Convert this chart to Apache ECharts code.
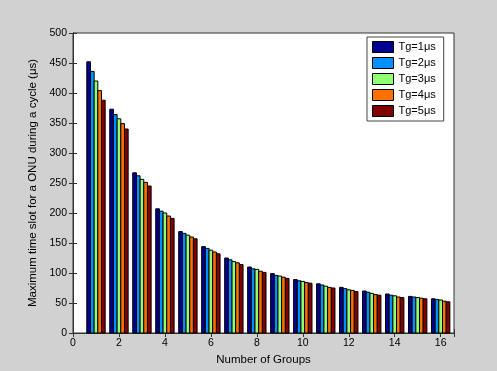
<!DOCTYPE html>
<html>
<head>
<meta charset="utf-8">
<script src="https://cdn.jsdelivr.net/npm/echarts@6/dist/echarts.min.js"></script>
<style>
  html, body { margin: 0; padding: 0; background: #d1d1d1; }
  #chart { width: 497px; height: 371px; }
</style>
</head>
<body>
<div id="chart"></div>
<script>
// groups 1..16
let groups = [1, 2, 3, 4, 5, 6, 7, 8, 9, 10, 11, 12, 13, 14, 15, 16]
let seriesNames = ['Tg=1μs', 'Tg=2μs', 'Tg=3μs', 'Tg=4μs', 'Tg=5μs']
let colors = ['#000090', '#0090ff', '#90ff70', '#ff7000', '#800000']
let tg1 = [452, 373, 267, 207, 169, 144, 125, 110, 99, 89, 82, 76, 70, 65, 61, 57]
let tg2 = [436, 364, 262, 203, 166, 141, 122, 107, 96, 87, 80, 74, 68, 63, 60, 56]
let tg3 = [420, 357, 256, 200, 163, 138, 119, 106, 95, 86, 78, 72, 66, 62, 59, 55]
let tg4 = [404, 349, 251, 195, 160, 135, 117, 103, 93, 84, 76, 71, 64, 60, 58, 53]
let tg5 = [388, 340, 245, 191, 157, 132, 114, 101, 91, 83, 75, 69, 63, 59, 57, 52]
let allValues = [tg1, tg2, tg3, tg4, tg5]

let barW = 0.16
let font = 'Liberation Sans, Arial, sans-serif'

function makeSeries (idx) {
  return {
    name: seriesNames[idx],
    type: 'custom',
    itemStyle: { color: colors[idx], borderColor: '#000', borderWidth: 1 },
    data: groups.map((g, i) => [g, allValues[idx][i]]),
    renderItem: function (params, api) {
      let x = api.value(0) + (idx - 2) * barW
      let top = api.coord([x - barW / 2, api.value(1)])
      let bottom = api.coord([x + barW / 2, 0])
      return {
        type: 'rect',
        shape: { x: top[0], y: top[1], width: bottom[0] - top[0], height: bottom[1] - top[1] },
        style: { fill: colors[idx], stroke: '#000', lineWidth: 1 }
      }
    }
  }
}

let axisCommon = {
  axisLine: { show: true, lineStyle: { color: '#333', width: 1 } },
  axisTick: { show: true, inside: true, length: 4, lineStyle: { color: '#333' } },
  splitLine: { show: false }
}

let option = {
  backgroundColor: '#d1d1d1',
  animation: false,
  textStyle: { fontFamily: font },
  grid: {
    left: 73, top: 33, right: 43, bottom: 38,
    show: true, backgroundColor: '#fff', borderColor: '#333', borderWidth: 1
  },
  legend: {
    orient: 'vertical',
    left: 367,
    top: 37,
    padding: [4, 8, 4, 5],
    itemWidth: 21,
    itemHeight: 11,
    itemGap: 4,
    backgroundColor: '#fff',
    borderColor: '#444',
    borderWidth: 1,
    borderRadius: 0,
    icon: 'rect',
    itemStyle: { borderColor: '#000', borderWidth: 1 },
    textStyle: { fontSize: 11, color: '#000', fontFamily: font },
    data: seriesNames
  },
  xAxis: [
    Object.assign({
      type: 'value',
      min: 0,
      max: 16.58,
      interval: 2,
      name: 'Number of Groups',
      nameLocation: 'middle',
      nameGap: 19,
      nameTextStyle: { fontSize: 11.5, color: '#000' },
      axisLabel: {
        fontSize: 10.5, color: '#000', margin: 5,
        formatter: v => (v % 2 === 0 ? String(v) : '')
      }
    }, axisCommon),
    Object.assign({
      type: 'value',
      position: 'top',
      min: 0,
      max: 16.58,
      interval: 2,
      axisLabel: { show: false }
    }, axisCommon)
  ],
  yAxis: [
    Object.assign({
      type: 'value',
      min: 0,
      max: 500,
      interval: 50,
      name: 'Maximum time slot for a ONU during a cycle (μs)',
      nameLocation: 'middle',
      nameGap: 33,
      nameRotate: 90,
      nameTextStyle: { fontSize: 11.5, color: '#000' },
      axisLabel: { fontSize: 10.5, color: '#000', margin: 6 }
    }, axisCommon),
    Object.assign({
      type: 'value',
      position: 'right',
      min: 0,
      max: 500,
      interval: 50,
      axisLabel: { show: false }
    }, axisCommon)
  ],
  series: [0, 1, 2, 3, 4].map(makeSeries)
}

let chart = echarts.init(document.getElementById('chart'))
chart.setOption(option)
</script>
</body>
</html>
